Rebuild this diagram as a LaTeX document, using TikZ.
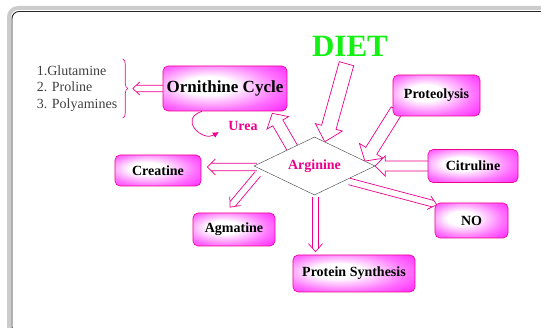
\documentclass[tikz,border=0pt]{standalone}
\usepackage{fontspec}
\setmainfont{Liberation Serif}
\usepackage{tikz}
\usetikzlibrary{calc,positioning,shapes.geometric,decorations.pathreplacing,backgrounds,arrows.meta}

\definecolor{dietgreen}{RGB}{20,240,20}
\pgfdeclareradialshading{pinkglow}{\pgfpoint{-8bp}{4bp}}{%
  color(0bp)=(white); color(10bp)=(white); color(26bp)=(magenta!55!white);
  color(44bp)=(magenta); color(60bp)=(magenta)}

\tikzset{
  box/.style={draw=magenta, line width=0.6pt, rounded corners=5pt, shading=pinkglow,
    font=\fontsize{14}{16}\selectfont\bfseries, text=black, inner sep=1pt},
  hollow/.style={draw=magenta, line width=0.7pt, line join=miter},
  pinklabel/.style={font=\fontsize{14}{16}\selectfont\bfseries, text=magenta}
}

\newcommand\fatarrow[5]{%
  \draw[hollow, fill=white] let \p1=(#1), \p2=(#2),
      \n1={atan2(\y2-\y1,\x2-\x1)}, \n2={veclen(\x2-\x1,\y2-\y1)} in
    [shift={(\p1)}, rotate=\n1, x=1pt, y=1pt]
    (0,#3) -- (\n2-#5,#3) -- (\n2-#5,#4) -- (\n2,0)
    -- (\n2-#5,-#4) -- (\n2-#5,-#3) -- (0,-#3) -- cycle;}
\newcommand\thinarrow[5]{%
  \draw[hollow] let \p1=(#1), \p2=(#2),
      \n1={atan2(\y2-\y1,\x2-\x1)}, \n2={veclen(\x2-\x1,\y2-\y1)},
      \n3={\n2-#5*#3/#4} in
    [shift={(\p1)}, rotate=\n1, x=1pt, y=1pt]
    (0,#3) -- (\n3,#3) (\n2-#5,#4) -- (\n2,0) -- (\n2-#5,-#4)
    (\n3,-#3) -- (0,-#3);}

\begin{document}
\begin{tikzpicture}[x=1pt, y=-1pt, on grid]
  \useasboundingbox (0,0) rectangle (541,328);

  \node (arg) [diamond, draw=black!75, fill=white, aspect=2, minimum width=121pt,
    minimum height=58pt, inner sep=1pt, pinklabel] at (314.5,166) {Arginine};
  \node (orn) [box, minimum width=124pt, minimum height=45pt,
    font=\fontsize{17}{19}\selectfont\bfseries, above left=77.5pt and 89.5pt of arg] {Ornithine Cycle};
  \node (pro) [box, minimum width=87pt, minimum height=41pt, above right=70.5pt and 122pt of arg] {Proteolysis};
  \node (cit) [box, minimum width=90pt, minimum height=33pt, right=158.5pt of arg] {Citruline};
  \node (no)  [box, minimum width=73pt, minimum height=35pt, below right=54.5pt and 157pt of arg] {NO};
  \node (ps)  [box, minimum width=122pt, minimum height=37pt, below right=107.5pt and 39.5pt of arg] {Protein Synthesis};
  \node (agm) [box, minimum width=82pt, minimum height=33pt, below left=63.5pt and 80.5pt of arg] {Agmatine};
  \node (cre) [box, minimum width=86pt, minimum height=31pt, below left=4.5pt and 156.5pt of arg] {Creatine};
  \node (diet) [above right=120pt and 35.5pt of arg, font=\fontsize{31}{31}\selectfont\bfseries,
    text=dietgreen] {DIET};
  \node (urea) [pinklabel, below right=37.5pt and 18pt of orn] {Urea};
  \node (list) [left=148pt of orn, align=left, font=\fontsize{14}{16.7}\selectfont, text=black!75]
    {1.Glutamine\\2. Proline\\3. Polyamines};

  \draw[magenta, line width=0.6pt, decorate, decoration={brace, amplitude=5pt}]
    ($(list.north east)+(2,-3)$) -- ($(list.south east)+(2,3)$);
  \draw[magenta, line width=0.7pt, -{Latex[length=6pt,width=6pt]}]
    ($(orn.south)+(-23,0)$) .. controls +(-24,8) and +(-16,10) .. ($(urea.west)+(-6,6)$);

  \begin{pgfonlayer}{background}
    \draw[black!20, line width=4pt, rounded corners=9pt] (9,8) rectangle (620,360);
    \draw[black!85, line width=0.9pt, rounded corners=7pt] (12,11.5) rectangle (620,334);
    \fatarrow{$(diet.south)+(-3.5,4)$}{$(arg.north)!0.17!(arg.east)$}{7.5}{14}{15}
    \fatarrow{$(pro.south west)+(4,-6)$}{$(arg.north)!0.83!(arg.east)$}{6.5}{14}{12}
    \fatarrow{$(cit.west)+(4,0)$}{arg.east}{5}{10}{10}
    \fatarrow{$(arg.north)!0.37!(arg.west)+(1.5,2.5)$}{$(orn.south east)+(-15,2)$}{5.8}{12.5}{11}
    \thinarrow{$(orn.west)+(2,0)$}{$(orn.west -| list.east)+(12,0)$}{3.3}{6.5}{7}
    \thinarrow{$(arg.west)+(3,1)$}{$(cre.east)+(6,-3.5)$}{3.7}{8}{8}
    \thinarrow{$(arg.west)+(4,8)$}{$(agm.north)+(-4,-5.5)$}{3.5}{7}{8}
    \thinarrow{$(arg.east)+(-26,15.5)$}{$(no.north west)+(2,2)$}{3.3}{7}{8}
    \thinarrow{$(arg.south)+(1,2)$}{$(arg.south |- ps.north)+(1,-3)$}{3}{7}{8}
  \end{pgfonlayer}
\end{tikzpicture}
\end{document}
